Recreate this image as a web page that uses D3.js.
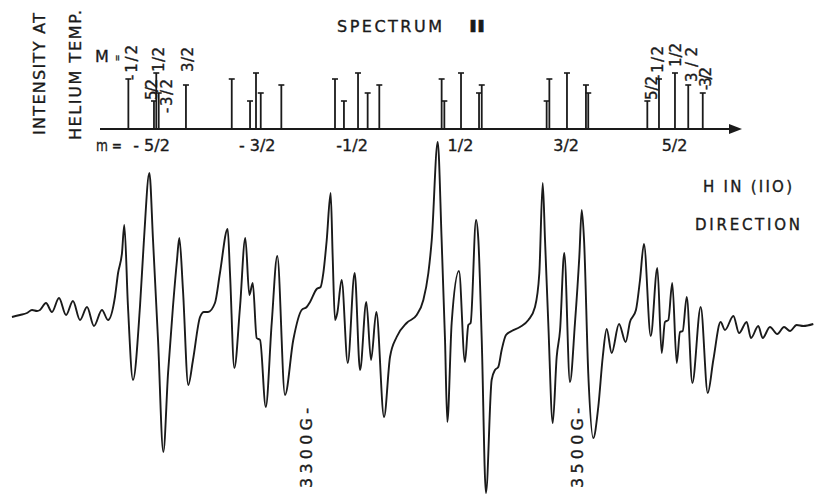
<!DOCTYPE html>
<html>
<head>
<meta charset="utf-8">
<script src="https://cdn.jsdelivr.net/npm/d3@7/dist/d3.min.js"></script>
<style>
  body { margin: 0; background: #fff; }
  text { font-family: "DejaVu Sans", sans-serif; fill: #1a1a1a; stroke: #1a1a1a; stroke-width: 0.35px; }
</style>
</head>
<body>
<svg id="plot" width="814" height="496"></svg>
<script>
const svg = d3.select('#plot');

const width = parseFloat(svg.attr('width'));
const height = parseFloat(svg.attr('height'));

// Data

// stick diagram: nuclear m groups, electron M lines inside each group
const mLabels = ['- 5/2', '- 3/2', '-1/2', '1/2', '3/2', '5/2'];
const mLabelField = [3186, 3264, 3334, 3414, 3492, 3572];
const Mvalues = ['-1/2', '5/2', '1/2', '-3/2', '3/2'];
const Mintensity = [5.0, 2.8, 5.6, 3.6, 4.4];
const stickFields = [
    [3168.9, 3187.8, 3189.5, 3191.3, 3211.4],
    [3245.2, 3258.7, 3263.1, 3266.6, 3281.8],
    [3321.4, 3328.0, 3338.4, 3345.5, 3354.1],
    [3400.1, 3402.1, 3414.4, 3427.7, 3429.7],
    [3479.6, 3477.6, 3492.6, 3508.3, 3506.6],
    [3560.5, 3551.9, 3572.3, 3592.8, 3582.1]
];

// derivative trace, field (G) and signal (arb. units)
const field = [
    3083.0, 3088.9, 3094.1, 3097.8, 3101.5, 3103.7, 3108.1, 3112.5, 3117.7, 3122.9,
    3128.0, 3133.2, 3138.4, 3143.5, 3149.4, 3153.9, 3159.0, 3161.3, 3164.2, 3165.9,
    3168.6, 3172.3, 3177.5, 3180.4, 3184.4, 3187.1, 3190.8, 3194.7, 3198.2, 3201.8,
    3204.8, 3206.5, 3209.2, 3213.1, 3216.6, 3221.8, 3224.7, 3227.7, 3232.8, 3236.5,
    3242.2, 3243.9, 3247.1, 3251.3, 3255.2, 3258.2, 3260.7, 3263.6, 3266.1, 3270.3,
    3274.7, 3278.8, 3284.5, 3290.6, 3296.8, 3300.5, 3303.0, 3307.9, 3310.8, 3312.8,
    3315.3, 3318.2, 3319.7, 3321.4, 3323.1, 3326.3, 3330.8, 3335.9, 3339.9, 3344.5,
    3348.0, 3351.9, 3357.6, 3362.0, 3366.9, 3374.3, 3381.7, 3386.6, 3390.3, 3392.8,
    3397.2, 3400.1, 3402.6, 3404.3, 3407.5, 3412.9, 3417.3, 3419.8, 3421.5, 3425.5,
    3427.2, 3429.7, 3432.8, 3437.0, 3439.5, 3441.9, 3444.4, 3447.6, 3451.8, 3457.9,
    3464.1, 3469.0, 3472.2, 3474.7, 3476.4, 3478.8, 3482.1, 3485.0, 3487.5, 3490.6,
    3494.8, 3498.5, 3501.7, 3503.5, 3505.2, 3508.3, 3512.0, 3515.7, 3519.0, 3521.9,
    3525.6, 3531.0, 3535.9, 3539.1, 3543.5, 3546.5, 3549.4, 3554.4, 3559.3, 3562.5,
    3564.9, 3567.4, 3570.3, 3573.6, 3576.0, 3578.0, 3581.0, 3585.1, 3591.3, 3596.5,
    3600.6, 3606.0, 3609.2, 3615.4, 3619.6, 3625.2, 3628.4, 3633.8, 3637.0, 3642.4,
    3647.8, 3652.8, 3657.2, 3662.1, 3667.0, 3674.4
];
const signal = [
    3, 5, 7, 10, 9, 10, 17, 8, 22, 5,
    19, 0, 13, -6, 10, 0, 23, 47, 67, 95,
    14, -60, 14, 80, 147, 80, -20, -132, -53, 13,
    60, 82, 30, -65, -40, 3, 8, 8, 17, 47,
    91, 47, -48, 13, 82, 25, 37, -18, -20, -87,
    -3, 64, -75, -20, 10, 13, 18, 31, 33, 47,
    80, 127, 63, 0, 7, 40, -43, 47, -50, 18,
    -40, 8, -97, -37, -17, -3, 5, 20, 47, 80,
    178, 80, -20, -102, -3, 49, -42, -5, -3, 100,
    80, -20, -173, -60, -50, -47, -30, -15, -11, -7,
    0, 13, 47, 137, 80, -3, -103, -37, -10, 67,
    -62, -3, 63, 110, 80, -53, -118, -87, -37, -9,
    -33, -4, -22, -2, 10, 40, 76, -16, 52, -33,
    -2, 0, 37, -43, -12, -11, 23, -63, 13, -73,
    -40, -2, -10, 4, -13, -2, -18, -6, -18, -7,
    -14, -7, -11, -5, -6, -4
];

const markerField = [3300, 3500];
const markerLabels = ['3300G-', '3500G-'];

// Scales

const xScale = d3.scaleLinear().domain([3300, 3500]).range([306, 577]);
const yScale = d3.scaleLinear().domain([-200, 200]).range([520, 120]);
const hScale = d3.scaleLinear().domain([0, 6]).range([129, 69]);

const ink = '#1a1a1a';

// Titles

svg.append('text')
    .attr('x', 337).attr('y', 32)
    .attr('font-size', 16)
    .attr('textLength', 105).attr('lengthAdjust', 'spacing')
    .text('SPECTRUM');
svg.append('text')
    .attr('x', 467).attr('y', 32)
    .attr('font-size', 16)
    .attr('textLength', 20).attr('lengthAdjust', 'spacingAndGlyphs')
    .text('\u2161');

const vText = (x, yBottom, len, str, size) => svg.append('text')
    .attr('transform', `translate(${x}, ${yBottom}) rotate(-90)`)
    .attr('dy', '0.36em')
    .attr('font-size', size)
    .attr('textLength', len).attr('lengthAdjust', 'spacing')
    .text(str);

vText(39, 135, 122, 'INTENSITY AT', 16);
vText(75, 140, 130, 'HELIUM  TEMP.', 16);

svg.append('text').attr('x', 703).attr('y', 192).attr('font-size', 15)
    .attr('textLength', 89).attr('lengthAdjust', 'spacing').text('H  IN (IIO)');
svg.append('text').attr('x', 695).attr('y', 230).attr('font-size', 15)
    .attr('textLength', 105).attr('lengthAdjust', 'spacing').text('DIRECTION');

// Stick diagram

const axisG = svg.append('g');
const x0 = xScale.invert(100), x1 = xScale.invert(742);
axisG.append('line')
    .attr('x1', xScale(x0)).attr('x2', xScale(x1) - 8)
    .attr('y1', hScale(0)).attr('y2', hScale(0))
    .attr('stroke', ink).attr('stroke-width', 2);
axisG.append('path')
    .attr('d', `M${xScale(x1)},${hScale(0)} L${xScale(x1) - 13},${hScale(0) - 5} L${xScale(x1) - 13},${hScale(0) + 5} Z`)
    .attr('fill', ink);

const sticks = [];
stickFields.forEach((grp, gi) => {
    grp.forEach((f, i) => sticks.push({g: gi, M: Mvalues[i], f: f, h: Mintensity[i]}));
});

const stickG = axisG.selectAll('g.stick').data(sticks).enter().append('g').attr('class', 'stick');
stickG.append('line')
    .attr('x1', d => xScale(d.f)).attr('x2', d => xScale(d.f))
    .attr('y1', hScale(0)).attr('y2', d => hScale(d.h))
    .attr('stroke', ink).attr('stroke-width', 1.8);
stickG.append('line')
    .attr('x1', d => xScale(d.f) - 3).attr('x2', d => xScale(d.f) + 3)
    .attr('y1', d => hScale(d.h)).attr('y2', d => hScale(d.h))
    .attr('stroke', ink).attr('stroke-width', 1.6);

// M labels on first and last group: [dx, dy from stick top, length]
const labelLayout = {
    0: [[3, 1, 35], [-2, -1, 21], [2, -1, 25], [8, 20, 34], [2, -13, 25]],
    5: [[-1, 1, 34], [4, -1, 24], [1, -6, 24], [3, -3, 23], [3, -3, 35]]
};
sticks.filter(d => labelLayout[d.g]).forEach(d => {
    const k = Mvalues.indexOf(d.M);
    const [dx, dy, len] = labelLayout[d.g][k];
    vText(xScale(d.f) + dx, hScale(d.h) + dy, len, d.M, 15);
});

svg.append('text').attr('x', 95).attr('y', 62).attr('font-size', 16).text('M');
svg.append('text')
    .attr('transform', 'translate(117, 58) rotate(-90)')
    .attr('dy', '0.36em').attr('text-anchor', 'middle')
    .attr('font-size', 8).text('=');

svg.append('text').attr('x', 96).attr('y', 151).attr('font-size', 16)
    .attr('textLength', 26).attr('lengthAdjust', 'spacingAndGlyphs').text('m =');
svg.selectAll('text.mlab').data(mLabels).enter().append('text')
    .attr('class', 'mlab')
    .attr('x', (d, i) => xScale(mLabelField[i]))
    .attr('y', 151)
    .attr('text-anchor', 'middle')
    .attr('font-size', 16)
    .text(d => d);

// Spectrum trace

const trace = field.map((f, i) => ({x: f, y: signal[i]}));
const lineGenerator = d3.line()
    .x(d => xScale(d.x))
    .y(d => yScale(d.y))
    .curve(d3.curveMonotoneX);

svg.append('path')
    .attr('d', lineGenerator(trace))
    .attr('fill', 'none')
    .attr('stroke', ink)
    .attr('stroke-width', 1.9)
    .attr('stroke-linejoin', 'round');

// Field markers
markerField.forEach((f, i) => {
    svg.append('text')
        .attr('transform', `translate(${xScale(f)}, 488) rotate(-90)`)
        .attr('dy', '0.36em')
        .attr('font-size', 16)
        .attr('textLength', 80).attr('lengthAdjust', 'spacing')
        .text(markerLabels[i]);
});
</script>
</body>
</html>
